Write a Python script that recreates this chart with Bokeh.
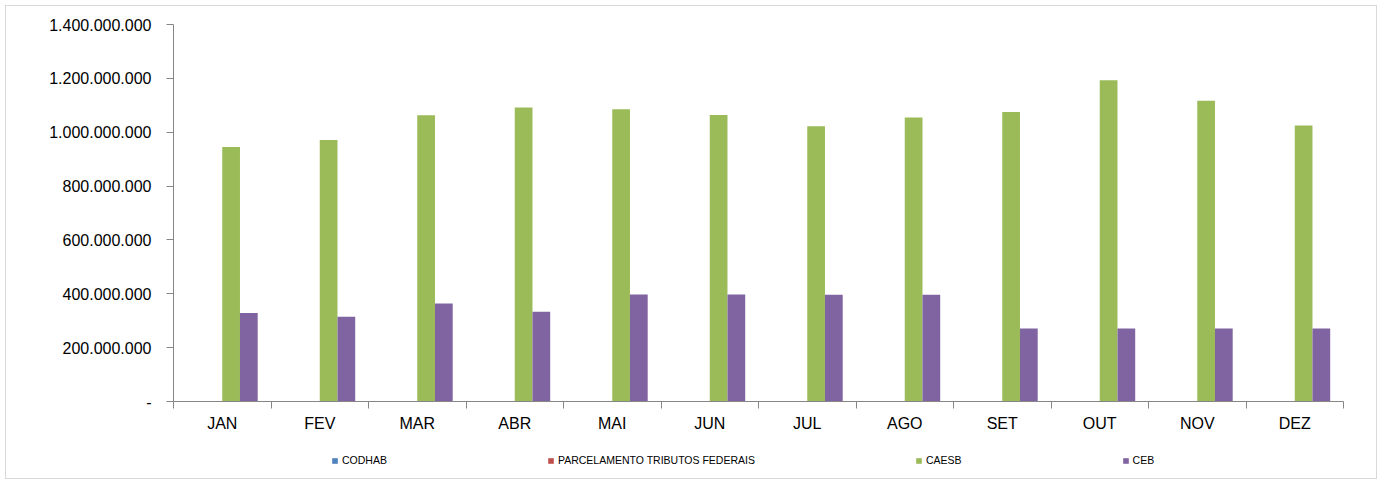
import numpy as np
from bokeh.plotting import figure
from bokeh.layouts import column
from bokeh.models import Range1d, FixedTicker, Legend, LegendItem, ColumnDataSource, LinearAxis
from bokeh.embed import file_html
from bokeh.resources import INLINE

months = ["JAN", "FEV", "MAR", "ABR", "MAI", "JUN", "JUL", "AGO", "SET", "OUT", "NOV", "DEZ"]
codhab = [0, 0, 0, 0, 0, 0, 0, 0, 0, 0, 0, 0]
parcelamento = [0, 0, 0, 0, 0, 0, 0, 0, 0, 0, 0, 0]
caesb = [945e6, 971e6, 1063e6, 1092e6, 1085e6, 1064e6, 1022e6, 1055e6, 1075e6, 1193e6, 1117e6, 1025e6]
ceb = [329e6, 315e6, 364e6, 333e6, 397e6, 397e6, 396e6, 396e6, 271e6, 271e6, 271e6, 271e6]
series_names = ["CODHAB", "PARCELAMENTO TRIBUTOS FEDERAIS", "CAESB", "CEB"]
series_values = [codhab, parcelamento, caesb, ceb]
colors = ["#4F81BD", "#C0504D", "#9BBB59", "#8064A2"]
y_ticks = [0, 200e6, 400e6, 600e6, 800e6, 1000e6, 1200e6, 1400e6]
y_tick_labels = ["-", "200.000.000", "400.000.000", "600.000.000", "800.000.000",
                 "1.000.000.000", "1.200.000.000", "1.400.000.000"]

FONT = "Liberation Sans"
n = len(months)
centers = np.arange(n) + 0.5
bw = 1.0 / 5.5

p = figure(width=1370, height=434, output_backend="svg", toolbar_location=None,
           x_range=Range1d(0, n), y_range=Range1d(0, 1.4e9),
           min_border_left=167, min_border_right=33, min_border_top=18, min_border_bottom=39,
           x_axis_type=None, y_axis_type=None)
p.outline_line_color = None
p.xgrid.visible = False
p.ygrid.visible = False
p.background_fill_color = "white"
p.border_fill_color = "white"

# legend strip below the chart (hidden proxy renderers of the same data)
lf = figure(width=1370, height=38, output_backend="svg", toolbar_location=None,
            x_range=Range1d(0, n), y_range=Range1d(-2e9, -1e9),
            min_border_left=0, min_border_right=0, min_border_top=0, min_border_bottom=0,
            x_axis_type=None, y_axis_type=None)
lf.outline_line_color = None
lf.xgrid.visible = False
lf.ygrid.visible = False

items = []
for k, (name, vals, col) in enumerate(zip(series_names, series_values, colors)):
    off = (k - 1.5) * bw
    src = ColumnDataSource(dict(x=centers + off, top=vals))
    p.vbar(x="x", top="top", bottom=0, width=bw, source=src,
           fill_color=col, line_color=None)
    r = lf.vbar(x="x", top="top", bottom=0, width=bw, source=src,
                fill_color=col, line_color=None)
    r.visible = False
    items.append(LegendItem(label=name, renderers=[r]))

xaxis = LinearAxis(ticker=FixedTicker(ticks=list(centers), minor_ticks=list(np.arange(n + 1))))
xaxis.major_label_overrides = {float(c): m for c, m in zip(centers, months)}
xaxis.major_tick_line_color = None
xaxis.major_tick_out = 7
xaxis.major_tick_in = 0
xaxis.minor_tick_line_color = "#868686"
xaxis.minor_tick_out = 7
xaxis.minor_tick_in = 0
xaxis.axis_line_color = "#868686"
xaxis.major_label_text_font = FONT
xaxis.major_label_text_font_size = "16px"
xaxis.major_label_text_color = "black"
xaxis.major_label_standoff = 6
p.add_layout(xaxis, "below")

yaxis = LinearAxis(ticker=FixedTicker(ticks=y_ticks, minor_ticks=[]))
yaxis.major_label_overrides = {t: l for t, l in zip(y_ticks, y_tick_labels)}
yaxis.major_tick_line_color = "#868686"
yaxis.major_tick_out = 7
yaxis.major_tick_in = 0
yaxis.minor_tick_line_color = None
yaxis.axis_line_color = "#868686"
yaxis.major_label_text_font = FONT
yaxis.major_label_text_font_size = "16px"
yaxis.major_label_text_color = "black"
yaxis.major_label_standoff = 15
p.add_layout(yaxis, "left")

legend = Legend(items=items, orientation="horizontal", location=(158, 12),
                spacing=160, padding=0, margin=0, glyph_width=7, glyph_height=7,
                label_standoff=4, label_text_font=FONT, label_text_font_size="10.5px",
                label_text_color="black", label_height=12,
                inactive_fill_alpha=0,
                border_line_color=None, background_fill_alpha=0)
lf.add_layout(legend)

layout = column(p, lf, spacing=0)
layout.styles = {"border": "1px solid #d9d9d9", "margin-left": "5px", "margin-top": "5px"}

open("out.html", "w").write(file_html(layout, INLINE))
